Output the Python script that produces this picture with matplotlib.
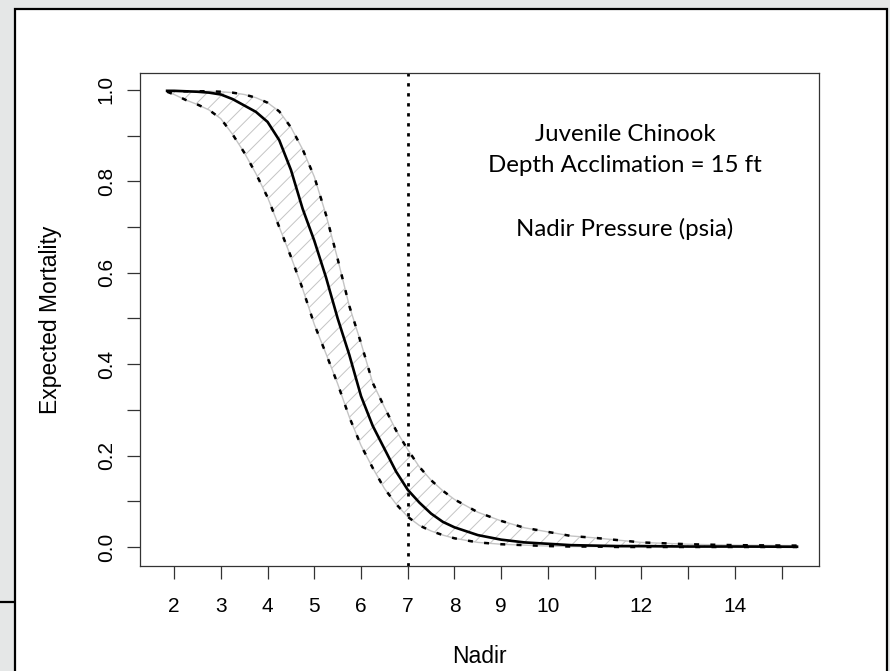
import numpy as np
import matplotlib.pyplot as plt
from matplotlib.patches import Rectangle
from matplotlib.lines import Line2D

# nadir pressure (psia) and expected mortality
nadir = [1.85, 2.0, 2.25, 2.5, 2.75, 3.0, 3.25, 3.5, 3.75, 4.0, 4.25, 4.5, 4.75,
         5.0, 5.25, 5.5, 5.75, 6.0, 6.25, 6.5, 6.75, 7.0, 7.25, 7.5, 7.75, 8.0,
         8.5, 9.0, 9.5, 10.0, 10.5, 11.0, 11.5, 12.0, 13.0, 14.0, 15.33]
mort_mid = [0.998, 0.998, 0.997, 0.996, 0.994, 0.990, 0.980, 0.966, 0.952, 0.930,
            0.890, 0.825, 0.740, 0.670, 0.590, 0.500, 0.420, 0.330, 0.265, 0.215,
            0.165, 0.125, 0.097, 0.073, 0.055, 0.043, 0.026, 0.016, 0.010, 0.007,
            0.004, 0.003, 0.002, 0.002, 0.001, 0.001, 0.0005]
mort_low = [0.996, 0.990, 0.978, 0.968, 0.956, 0.937, 0.903, 0.863, 0.817, 0.765,
            0.700, 0.635, 0.565, 0.487, 0.423, 0.357, 0.284, 0.222, 0.173, 0.128,
            0.094, 0.066, 0.047, 0.035, 0.026, 0.019, 0.010, 0.006, 0.004, 0.002,
            0.001, 0.001, 0.0, 0.0, 0.0, 0.0, 0.0]
mort_up = [0.997, 0.997, 0.997, 0.997, 0.997, 0.996, 0.994, 0.990, 0.983, 0.972,
           0.953, 0.918, 0.870, 0.810, 0.727, 0.630, 0.527, 0.446, 0.359, 0.306,
           0.255, 0.213, 0.175, 0.146, 0.123, 0.104, 0.076, 0.057, 0.042, 0.033,
           0.024, 0.020, 0.015, 0.010, 0.006, 0.004, 0.003]

x_ticks = list(range(2, 16))
x_labels = ["2", "3", "4", "5", "6", "7", "8", "9", "10", "", "12", "", "14", ""]
y_ticks = [0.0, 0.1, 0.2, 0.3, 0.4, 0.5, 0.6, 0.7, 0.8, 0.9, 1.0]
y_labels = ["0.0", "", "0.2", "", "0.4", "", "0.6", "", "0.8", "", "1.0"]
nadir_limit = 7

note_lines = "Juvenile Chinook\nDepth Acclimation = 15 ft\n\nNadir Pressure (psia)"

plt.rcParams['font.family'] = ['Liberation Sans', 'DejaVu Sans']
plt.rcParams['hatch.linewidth'] = 0.7

W, H = 890, 671
fig = plt.figure(figsize=(W / 100, H / 100), dpi=100, facecolor="#e5e7e7")

# slide frame behind the plot
fig.patches.append(Rectangle((15 / W, -0.05), (887 - 15) / W, 1.05 - 9 / H,
                             transform=fig.transFigure, facecolor="white",
                             edgecolor="black", linewidth=1.6, zorder=-2))
fig.lines.append(Line2D([0, 15 / W], [1 - 602 / H, 1 - 602 / H], transform=fig.transFigure,
                        color="black", linewidth=1.6, zorder=-2))

ax = fig.add_axes([140 / W, 1 - 566 / H, (819 - 140) / W, (566 - 73) / H])
ax.set_zorder(1)
ax.set_facecolor("white")

ax.fill_between(nadir, mort_low, mort_up, facecolor="none", edgecolor="#c4c4c4",
                hatch="//", linewidth=1.0)
ax.plot(nadir, mort_up, color="black", linewidth=1.8, linestyle=(0, (2.0, 4.5)))
ax.plot(nadir, mort_low, color="black", linewidth=1.8, linestyle=(0, (2.0, 4.5)))
ax.plot(nadir, mort_mid, color="black", linewidth=1.9)
ax.axvline(nadir_limit, color="black", linewidth=2.0, linestyle=(0, (1.2, 2.4)))

ax.set_xlim(1.27, 15.8)
ax.set_ylim(-0.0416, 1.037)
ax.set_xticks(x_ticks)
ax.set_xticklabels(x_labels)
ax.set_yticks(y_ticks)
ax.set_yticklabels(y_labels)
ax.tick_params(axis="both", direction="out", length=9.5, width=0.9, color="#333333",
               labelsize=15)
ax.tick_params(axis="x", pad=13)
ax.tick_params(axis="y", pad=8)
plt.setp(ax.get_yticklabels(), rotation=90, va="center")
for s in ax.spines.values():
    s.set_color("#333333")
    s.set_linewidth(0.9)

ax.set_xlabel("Nadir", fontsize=16.5, labelpad=21)
ax.set_ylabel("Expected Mortality", fontsize=16.5, labelpad=25)

fig.text(625 / W, 1 - 124 / H, note_lines, ha="center", va="top",
         fontsize=17.3, family=["Lato", "DejaVu Sans"], linespacing=1.6, zorder=3)

fig.savefig("out.png", dpi=100, facecolor=fig.get_facecolor())
